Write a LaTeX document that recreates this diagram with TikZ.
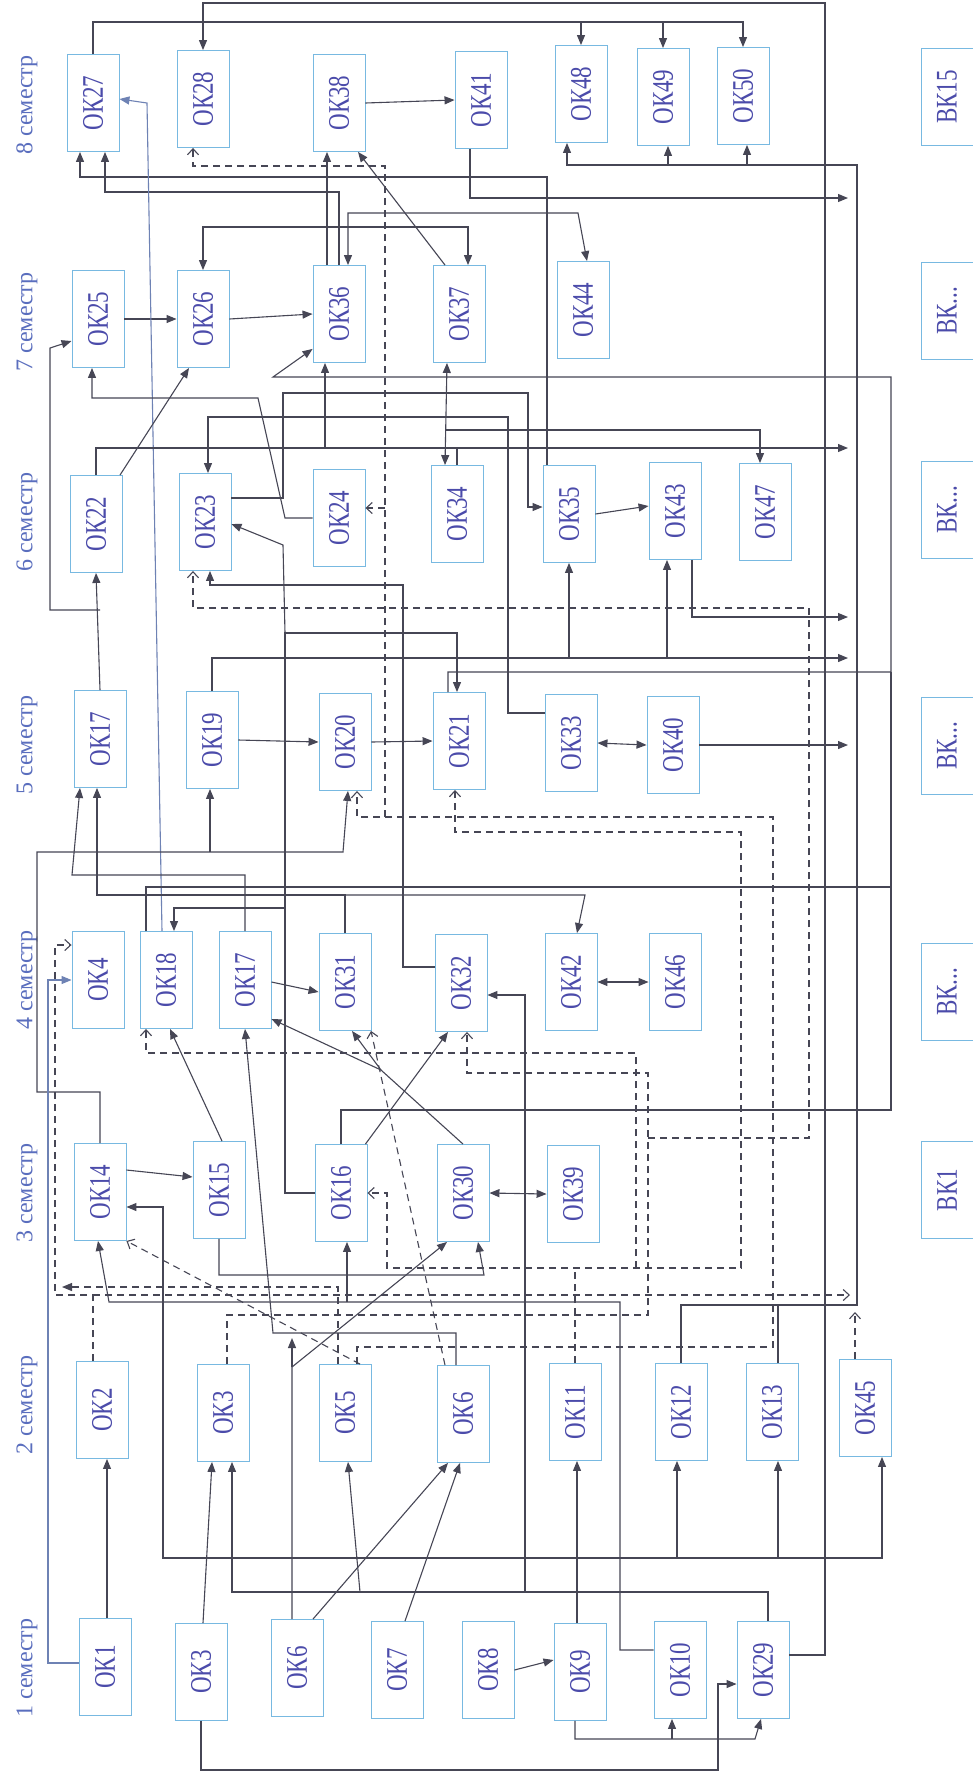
\documentclass[tikz,border=0pt]{standalone}
\usepackage{fontspec}
\setmainfont{Liberation Serif}
\usetikzlibrary{arrows.meta}
\definecolor{boxline}{RGB}{120,185,225}
\definecolor{boxtext}{RGB}{75,75,170}
\definecolor{semtext}{RGB}{90,110,190}
\definecolor{linegood}{RGB}{70,70,85}
\definecolor{lineblue}{RGB}{110,130,180}
\newcommand{\boxtxt}[1]{\rotatebox{90}{\scalebox{1}[1.3]{#1}}}

\begin{document}
\begin{tikzpicture}[x=1pt,y=-1pt,
  box/.style={draw=boxline,line width=0.9pt,text=boxtext,minimum width=52pt,minimum height=97pt,inner sep=0pt,font=\fontsize{23}{26}\selectfont},
  sem/.style={text=semtext,inner sep=0pt,font=\fontsize{24}{27}\selectfont},
  ln/.style={draw=linegood,line width=1.1pt},
  arr/.style={ln,-{Triangle[length=10pt,width=8pt]}},
  arr2/.style={ln,{Triangle[length=10pt,width=8pt]}-{Triangle[length=10pt,width=8pt]}},
  dl/.style={ln,dash pattern=on 7pt off 5pt},
  darr/.style={dl,-{Straight Barb[length=6pt,width=11pt]}},
  darr2/.style={dl,{Straight Barb[length=6pt,width=11pt]}-{Straight Barb[length=6pt,width=11pt]}},
  bl/.style={draw=lineblue}]
\useasboundingbox (0,0) rectangle (973,1781);
\fill[white] (0,0) rectangle (973,1781);

% semesters
\foreach \s/\y in {8/105,7/322,6/522,5/745,4/980,3/1193,2/1405,1/1668}
  \node[sem] (sem\s) at (27,\y) {\rotatebox{90}{\s\ семестр}};

% boxes
\foreach \nm/\x/\y/\k in {ok27/93/103/27, ok28/203/99/28, ok38/339/103/38, ok41/481/100/41, ok48/581/94/48, ok49/663/97/49, ok50/743/96/50,
  ok25/98/319/25, ok26/203/319/26, ok36/339/314/36, ok37/459/314/37, ok44/583/310/44,
  ok22/96/524/22, ok23/205/522/23, ok24/339/518/24, ok34/457/514/34, ok35/569/514/35, ok43/675/511/43, ok47/765/512/47,
  ok17a/100/739/17, ok19/212/740/19, ok20/345/742/20, ok21/459/741/21, ok33/571/743/33, ok40/673/745/40,
  ok4/98/980/4, ok18/166/980/18, ok17b/245/980/17, ok31/345/982/31, ok32/461/983/32, ok42/571/982/42, ok46/675/982/46,
  ok14/100/1192/14, ok15/219/1190/15, ok16/341/1193/16, ok30/463/1193/30, ok39/573/1194/39,
  ok2/102/1410/2, ok3b/223/1413/3, ok5/345/1413/5, ok6b/463/1414/6, ok11/575/1412/11, ok12/681/1412/12, ok13/772/1412/13, ok45/865/1408/45,
  ok1/105/1667/1, ok3a/201/1672/3, ok6a/297/1668/6, ok7/397/1670/7, ok8/488/1670/8, ok9/580/1672/9, ok10/680/1670/10, ok29/763/1670/29}
  \node[box] (\nm) at (\x,\y) {\boxtxt{ОК\k}};
\node[box] (bk8) at (947,97) {\boxtxt{ВК15}};
\node[box] (bk7) at (947,311) {\boxtxt{ВК...}};
\node[box] (bk6) at (947,510) {\boxtxt{ВК...}};
\node[box] (bk5) at (947,746) {\boxtxt{ВК...}};
\node[box] (bk4) at (947,992) {\boxtxt{ВК...}};
\node[box] (bk3) at (947,1190) {\boxtxt{ВК1}};

% 8 and 7 semester
\draw[arr] ([yshift=15pt]ok29.east) -- (825,1655) -- (825,3) -| (ok28.north);
\draw[arr] (ok27.north) |- (743,22) -- (ok50.north);
\draw[arr] (ok48.north |- 0,22) -- (ok48.north);
\draw[arr] (ok49.north |- 0,22) -- (ok49.north);
\draw[arr] (ok12.north) -- (ok12.north |- 0,1305) -- (857,1305) -- (857,165) -| ([xshift=-14pt]ok48.south);
\draw[arr] ([xshift=5pt]ok49.south |- 0,165) -- ([xshift=5pt]ok49.south);
\draw[arr] ([xshift=4pt]ok50.south |- 0,165) -- ([xshift=4pt]ok50.south);
\draw[ln] ([xshift=6pt]ok13.north) -- ([xshift=6pt]ok13.north |- 0,1305);
\draw[arr] ([xshift=-22pt]ok35.north) -- (547,177) -| ([xshift=-13pt]ok27.south);
\draw[arr] (ok36.north) |- (105,192) -- ([xshift=12pt]ok27.south);
\draw[arr] ([xshift=-12pt]ok36.north) -- ([xshift=-12pt]ok38.south);
\draw[arr] (ok38.east) -- (ok41.west);
\draw[arr] ([xshift=-14pt]ok37.north) -- ([xshift=19pt]ok38.south);
\draw[arr] ([xshift=-11pt]ok41.south) |- (848,198);
\draw[arr2] ([xshift=9pt]ok36.north) |- (578,213) -- ([xshift=4pt]ok44.north);
\draw[arr2] (ok26.north) |- (468,227) -- ([xshift=9pt]ok37.north);
\draw[arr] (ok25.east) -- (ok26.west);
\draw[arr] (ok26.east) -- (ok36.west);
\draw[arr,bl] ([xshift=-4pt]ok18.north) -- (147,103) -- ([yshift=4pt]ok27.east);

% 6 and 5 semester
\draw[arr] (ok17a.north) -- (ok22.south);
\draw[arr] (ok17a.north |- 0,610) -| (50,348) -- ([yshift=-22pt]ok25.west);
\draw[arr] (ok24.west) -- (285,518) -- (258,398) -| ([xshift=-6pt]ok25.south);
\draw[arr] ([xshift=24pt]ok22.north) -- ([xshift=-14pt]ok26.south);
\draw[arr] (ok22.north) |- (848,448);
\draw[arr] ([xshift=-14pt]ok36.south |- 0,448) -- ([xshift=-14pt]ok36.south);
\draw[ln] (ok34.north) -- (ok34.north |- 0,448);
\draw[arr] ([xshift=-11pt]ok21.north) |- (891,672) -- (891,377) -- (273,377) -- ([yshift=14pt]ok36.south west);
\draw[ln] (ok16.north) |- (891,1110) -- (891,672);
\draw[ln] ([xshift=-20pt]ok18.north) |- (891,887);
\draw[arr] ([yshift=24pt]ok23.east) -- (283,498) -- (283,393) -| (528,507) -- ([yshift=7pt]ok35.west);
\draw[arr] (ok16.west) -- (285,1193) -- (285,633) -| ([xshift=-2pt]ok21.north);
\draw[arr] (285,633) -- (283,545) -- ([yshift=-2pt]ok23.east);
\draw[arr] (285,908) -| ([xshift=8pt]ok18.north);
\draw[arr] ([yshift=30pt]ok33.west) -| (508,417) -| ([xshift=3pt]ok23.north);
\draw[arr2] ([xshift=-12pt]ok34.north) -- ([xshift=-12pt]ok37.south);
\draw[arr] ([xshift=-12pt]ok34.north |- 0,430) -| ([xshift=-5pt]ok47.north);
\draw[arr] (ok19.north) |- (848,658);
\draw[arr] (ok35.south |- 0,658) -- (ok35.south);
\draw[arr] ([xshift=-8pt]ok43.south |- 0,658) -- ([xshift=-8pt]ok43.south);
\draw[arr] ([xshift=17pt]ok43.south) |- (848,617);
\draw[arr] (ok35.east) -- ([yshift=5pt]ok43.west);
\draw[arr2] (ok33.east) -- (ok40.west);
\draw[arr] (ok40.east) -- (848,745);
\draw[arr] (ok19.east) -- (ok20.west);
\draw[arr] (ok20.east) -- (ok21.west);
\draw[arr] ([yshift=16pt]ok32.west) -| (403,585) -| ([xshift=5pt]ok23.south);

% dashed links
\draw[darr] ([xshift=4pt]ok3b.north) |- (648,1315) -- (648,1073) -| ([xshift=6pt]ok32.south);
\draw[darr] (648,1138) -| (809,608) -| ([xshift=-12pt]ok23.south);
\draw[darr] ([xshift=12pt]ok5.north) |- (773,1347) -- (773,817) -| ([xshift=12pt]ok20.south);
\draw[darr] (385,817) -- (385,166) -| ([xshift=-10pt]ok28.south);
\draw[darr] (385,508) -- ([yshift=10pt]ok24.east);
\draw[darr2] ([xshift=-4pt]ok21.south) |- (741,832) |- (387,1268) |- (ok16.east);
\draw[darr] (636,1268) |- (146,1053) -- ([xshift=-20pt]ok18.south);
\draw[dl] (ok11.north) -- (ok11.north |- 0,1268);
\draw[darr] ([xshift=-9pt]ok2.north) |- (55,1295) |- ([yshift=35pt]ok4.west);
\draw[darr] ([xshift=-9pt]ok2.north |- 0,1295) -- (850,1295);
\draw[dl,-{Triangle[length=10pt,width=8pt]}] ([xshift=-7pt]ok5.north) |- (62,1287);
\draw[darr] ([xshift=-10pt]ok45.north) -- (855,1312);
\draw[darr] ([xshift=15pt]ok5.north) -- (ok14.south east);
\draw[darr] ([xshift=-18pt]ok6b.north) -- ([xshift=26pt]ok31.south);

% 4 and 3 semester
\draw[arr] (ok14.north) |- (37,1092) -- (37,852) -- (343,852) -- ([xshift=3pt]ok20.south);
\draw[arr] ([xshift=-2pt]ok19.south |- 0,852) -- ([xshift=-2pt]ok19.south);
\draw[arr] (ok31.north) |- (97,895) -- ([xshift=-3pt]ok17a.south);
\draw[arr] (ok31.north |- 0,895) -- (585,895) -- ([xshift=6pt]ok42.north);
\draw[arr] (ok17b.north) |- (72,875) -- ([xshift=-20pt]ok17a.south);
\draw[arr] ([yshift=-2pt]ok17b.east) -- ([yshift=-10pt]ok31.west);
\draw[arr] ([xshift=3pt]ok15.north) -- ([xshift=4pt]ok18.south);
\draw[arr] ([yshift=22pt]ok14.east) -- ([yshift=13pt]ok15.west);
\draw[arr] (ok30.north) -- (381,1070) -- ([xshift=7pt]ok31.south);
\draw[arr] (381,1070) -- ([yshift=10pt]ok17b.south east);
\draw[arr] ([xshift=-2pt]ok16.north east) -- ([xshift=-13pt]ok32.south);
\draw[arr2] (ok30.east) -- (ok39.west);
\draw[arr2] (ok42.east) -- (ok46.west);

% 2 and 1 semester
\draw[arr] ([xshift=-3pt]ok9.north) |- (163,1558) |- ([yshift=-15pt]ok14.east);
\draw[arr] ([xshift=-3pt]ok9.north) -- ([xshift=2pt]ok11.south);
\draw[arr] ([xshift=-3pt]ok9.north |- 0,1558) -| ([xshift=17pt]ok45.south);
\draw[arr] ([xshift=-4pt]ok12.south |- 0,1558) -- ([xshift=-4pt]ok12.south);
\draw[arr] ([xshift=6pt]ok13.south |- 0,1558) -- ([xshift=6pt]ok13.south);
\draw[arr] ([yshift=20pt]ok10.west) -| (620,1302) -- (109,1302) -- ([xshift=-2pt]ok14.south);
\draw[arr] ([xshift=6pt]ok16.south |- 0,1302) -- ([xshift=6pt]ok16.south);
\draw[arr] (ok15.south) |- (484,1275) -- ([xshift=15pt]ok30.south);
\draw[arr] ([xshift=-5pt]ok6a.north) -- (292,1367) -- ([xshift=-16pt]ok30.south);
\draw[arr] (292,1367) -- (292,1338);
\draw[arr] ([xshift=-7pt]ok6b.north) |- (273,1333) -- (ok17b.south);
\draw[arr] ([xshift=16pt]ok6a.north) -- ([xshift=-15pt]ok6b.south);
\draw[arr] ([xshift=8pt]ok7.north) -- ([xshift=-3pt]ok6b.south);
\draw[arr] ([xshift=5pt]ok29.north) |- (232,1592) -- ([xshift=9pt]ok3b.south);
\draw[arr] (360,1592) -- ([xshift=3pt]ok5.south);
\draw[arr] (525,1592) |- ([yshift=-12pt]ok32.east);
\draw[arr] ([xshift=2pt]ok3a.north) -- ([xshift=-11pt]ok3b.south);
\draw[arr] ([xshift=2pt]ok1.north) -- ([xshift=5pt]ok2.south);
\draw[arr,bl] ([yshift=4pt]ok1.west) -| (48,980) -- (ok4.west);
\draw[arr] (ok3a.south) |- (718,1770) |- ([yshift=-14pt]ok29.west);
\draw[arr] ([xshift=-5pt]ok9.south) |- (755,1739) -- ([xshift=-2pt]ok29.south);
\draw[arr] ([xshift=-8pt]ok10.south |- 0,1739) -- ([xshift=-8pt]ok10.south);
\draw[arr] (ok8.east) -- ([yshift=12pt]ok9.west);
\end{tikzpicture}
\end{document}
